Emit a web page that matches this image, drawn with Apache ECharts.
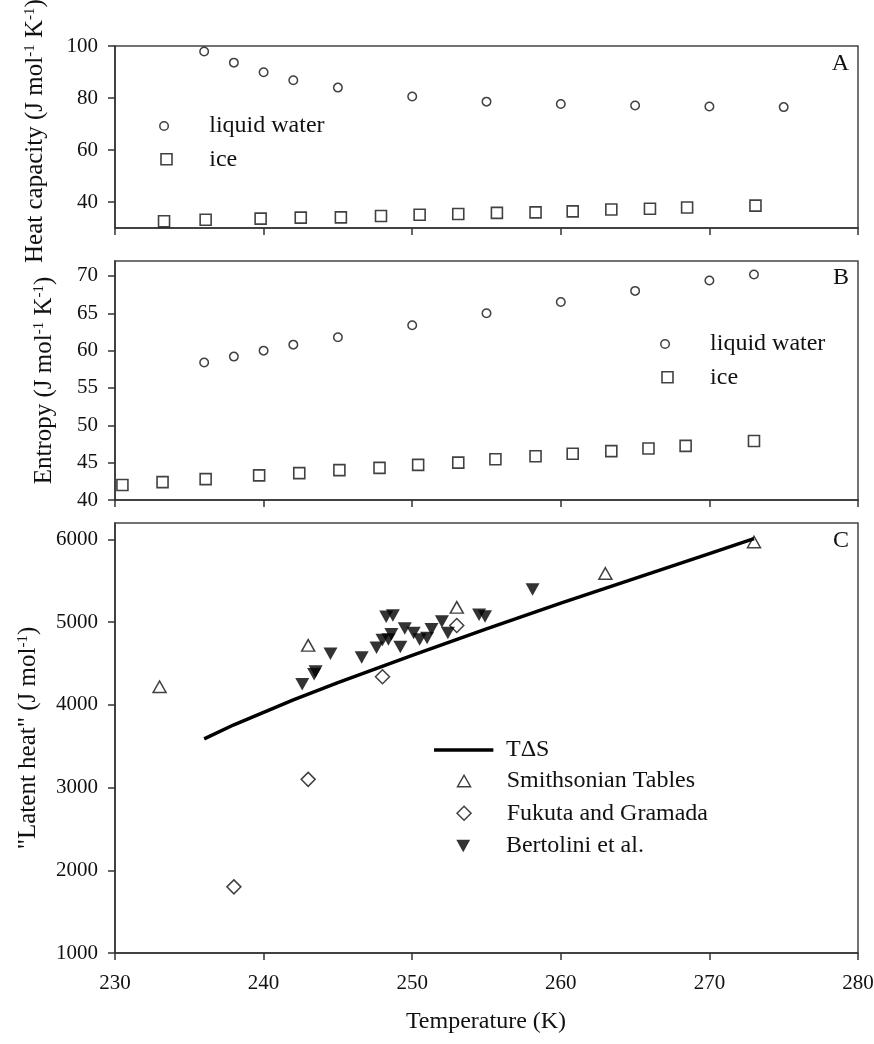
<!DOCTYPE html>
<html><head><meta charset="utf-8">
<script src="https://cdn.jsdelivr.net/npm/echarts@6/dist/echarts.min.js"></script>
<style>html,body{margin:0;padding:0;background:#fff}#c{width:874px;height:1044px}</style>
</head><body><div id="c"></div>
<script>
// ---------------- data ----------------
// Panel A: heat capacity (J mol-1 K-1)
const tLiquidCp = [236, 238, 240, 242, 245, 250, 255, 260, 265, 270, 275];
const cpLiquid  = [97.9, 93.6, 89.9, 86.8, 84.0, 80.6, 78.6, 77.7, 77.1, 76.7, 76.5];
const tIceCp    = [233.3, 236.1, 239.8, 242.5, 245.2, 247.9, 250.5, 253.1, 255.7, 258.3, 260.8, 263.4, 266.0, 268.5, 273.1];
const cpIce     = [32.6, 33.2, 33.6, 34.0, 34.1, 34.6, 35.1, 35.4, 35.8, 36.0, 36.4, 37.1, 37.4, 37.9, 38.6];
// Panel B: entropy (J mol-1 K-1)
const tLiquidS  = [236, 238, 240, 242, 245, 250, 255, 260, 265, 270, 273];
const sLiquid   = [58.4, 59.2, 60.0, 60.8, 61.8, 63.4, 65.0, 66.5, 68.0, 69.4, 70.2];
const tIceS     = [230.5, 233.2, 236.1, 239.7, 242.4, 245.1, 247.8, 250.4, 253.1, 255.6, 258.3, 260.8, 263.4, 265.9, 268.4, 273.0];
const sIce      = [42.0, 42.4, 42.8, 43.3, 43.6, 44.0, 44.3, 44.7, 45.0, 45.45, 45.85, 46.2, 46.55, 46.9, 47.25, 47.9];
// Panel C: "latent heat" (J mol-1)
const tTdS      = [236, 238, 240, 242, 245, 250, 255, 260, 265, 270, 273];
const vTdS      = [3590, 3760, 3910, 4060, 4270, 4600, 4920, 5230, 5530, 5830, 6010];
const tSmith    = [233, 243, 253, 263, 273];
const vSmith    = [4220, 4720, 5180, 5590, 5970];
const tFukuta   = [238, 243, 248, 253];
const vFukuta   = [1800, 3100, 4340, 4960];
const tBert     = [242.6, 243.4, 243.5, 244.5, 246.6, 247.6, 248.0, 248.4, 248.25, 248.7, 248.6, 249.2, 249.5, 250.1, 250.5, 251.0, 251.3, 252.0, 252.4, 254.5, 254.9, 258.1];
const vBert     = [4250, 4370, 4405, 4620, 4575, 4690, 4785, 4790, 5065, 5080, 4855, 4700, 4925, 4870, 4790, 4810, 4915, 5010, 4870, 5090, 5070, 5395];
// ticks
const tempTicks = [230, 240, 250, 260, 270, 280];
const cpTicks   = [40, 60, 80, 100];
const sTicks    = [40, 45, 50, 55, 60, 65, 70];
const lhTicks   = [1000, 2000, 3000, 4000, 5000, 6000];

// ---------------- helpers ----------------
const FONT = '"Liberation Serif","Times New Roman",serif';
const INK = '#111';
const AX = '#333';
const zip = (a, b) => a.map((v, i) => [v, b[i]]);

function xAx(gi, showLabels) {
  return {
    type: 'value', gridIndex: gi, min: tempTicks[0], max: tempTicks[tempTicks.length - 1], interval: 10,
    axisLine: { show: true, onZero: false, lineStyle: { color: AX, width: 1.5 } },
    axisTick: { show: true, inside: false, length: 7, lineStyle: { color: AX, width: 1.5 } },
    axisLabel: { show: showLabels, margin: 20, fontSize: 21, fontFamily: FONT, color: INK, formatter: v => String(v) },
    splitLine: { show: false }
  };
}
function yAx(gi, min, max, ticks) {
  return {
    type: 'value', gridIndex: gi, min: min, max: max,
    axisLine: { show: true, onZero: false, lineStyle: { color: AX, width: 1.5 } },
    axisTick: { show: true, inside: false, length: 7, customValues: ticks, lineStyle: { color: AX, width: 1.5 } },
    axisLabel: { show: true, customValues: ticks, margin: 17, fontSize: 21, fontFamily: FONT, color: INK, formatter: v => String(v) },
    splitLine: { show: false }
  };
}
function grid(top, height) {
  return { left: 115, width: 743, top: top, height: height, show: true, borderColor: '#444', borderWidth: 1.5,
           backgroundColor: 'transparent', containLabel: false, outerBoundsMode: 'none' };
}
// single-item legend: icon centre (cx, cy), icon w x h, text starting at textX
function leg(item, cx, cy, w, h, textX, itemStyle) {
  const left = cx - w / 2;
  const pad = textX - (left + w + 5);
  const l = {
    show: true, data: [item], orient: 'vertical', left: left, top: cy - 12, padding: 0,
    itemWidth: w, itemHeight: h, selectedMode: false,
    textStyle: { fontSize: 24, fontFamily: FONT, color: INK, lineHeight: 24, padding: [0, 0, 0, pad] }
  };
  if (itemStyle) l.itemStyle = itemStyle;
  return l;
}
const openCircle = { color: '#fff', borderColor: INK, borderWidth: 1.5 };
const openSquare = { color: '#fff', borderColor: INK, borderWidth: 1.6 };
const openTri    = { color: '#fff', borderColor: INK, borderWidth: 1.5 };
const downTri = 'path://M0,0L10,0L5,9Z';

const chart = echarts.init(document.getElementById('c'), null, { renderer: 'canvas' });
chart.setOption({
  backgroundColor: '#fff',
  animation: false,
  grid: [grid(46, 182), grid(261, 239), grid(523, 430)],
  xAxis: [xAx(0, false), xAx(1, false), xAx(2, true)],
  yAxis: [yAx(0, 30, 100, cpTicks), yAx(1, 40, 72, sTicks), yAx(2, 1000, 6200, lhTicks)],
  legend: [
    leg('liquid water', 163.3, 126, 8.5, 8.5, 208.5, { borderWidth: 1.5 }),
    leg('ice', 165.7, 159.3, 11, 11, 208.5, { borderWidth: 1.6 }),
    leg('liquid water', 664.3, 344, 8.5, 8.5, 709.3, { borderWidth: 1.5 }),
    leg('ice', 666.7, 377.3, 11, 11, 709.3, { borderWidth: 1.6 }),
    leg({ name: 'TΔS', icon: 'rect' }, 463.7, 750, 59.3, 3.5, 506, { color: '#000', borderWidth: 0 }),
    leg('Smithsonian Tables', 463.3, 781, 13, 11.5, 506, { borderWidth: 1.5 }),
    leg('Fukuta and Gramada', 463.3, 813.3, 14, 14, 506, { borderWidth: 1.5 }),
    leg('Bertolini et al.', 463.3, 846, 14, 12.5, 506)
  ],
  series: [
    { name: 'liquid water', type: 'scatter', xAxisIndex: 0, yAxisIndex: 0, symbol: 'circle', symbolSize: 8.5,
      itemStyle: openCircle, data: zip(tLiquidCp, cpLiquid) },
    { name: 'ice', type: 'scatter', xAxisIndex: 0, yAxisIndex: 0, symbol: 'rect', symbolSize: 11,
      itemStyle: openSquare, data: zip(tIceCp, cpIce) },
    { name: 'liquid water', type: 'scatter', xAxisIndex: 1, yAxisIndex: 1, symbol: 'circle', symbolSize: 8.5,
      itemStyle: openCircle, data: zip(tLiquidS, sLiquid) },
    { name: 'ice', type: 'scatter', xAxisIndex: 1, yAxisIndex: 1, symbol: 'rect', symbolSize: 11,
      itemStyle: openSquare, data: zip(tIceS, sIce) },
    { name: 'TΔS', type: 'line', xAxisIndex: 2, yAxisIndex: 2, symbol: 'none', showSymbol: false, smooth: false,
      lineStyle: { color: '#000', width: 3.5, cap: 'butt' }, itemStyle: { color: '#000' }, data: zip(tTdS, vTdS) },
    { name: 'Smithsonian Tables', type: 'scatter', xAxisIndex: 2, yAxisIndex: 2, symbol: 'triangle', symbolSize: [13, 11.5],
      itemStyle: openTri, data: zip(tSmith, vSmith) },
    { name: 'Fukuta and Gramada', type: 'scatter', xAxisIndex: 2, yAxisIndex: 2, symbol: 'diamond', symbolSize: 14,
      itemStyle: openTri, data: zip(tFukuta, vFukuta) },
    { name: 'Bertolini et al.', type: 'scatter', xAxisIndex: 2, yAxisIndex: 2, symbol: downTri, symbolSize: [14, 12.5],
      itemStyle: { color: '#000' }, data: zip(tBert, vBert) }
  ],
  graphic: [
    { type: 'text', x: 849, y: 64, style: { text: 'A', font: '24px ' + FONT, fill: INK, align: 'right', verticalAlign: 'middle' } },
    { type: 'text', x: 849, y: 278, style: { text: 'B', font: '24px ' + FONT, fill: INK, align: 'right', verticalAlign: 'middle' } },
    { type: 'text', x: 849, y: 541, style: { text: 'C', font: '24px ' + FONT, fill: INK, align: 'right', verticalAlign: 'middle' } },
    { type: 'text', x: 35, y: 263, rotation: Math.PI / 2,
      style: { text: 'Heat capacity (J mol{s|-1} K{s|-1})', fontSize: 25, fontFamily: FONT, fill: INK, align: 'left', verticalAlign: 'middle',
               rich: { s: { fontSize: 15, fontFamily: FONT, fill: INK, verticalAlign: 'top' } } } },
    { type: 'text', x: 44, y: 380.5, rotation: Math.PI / 2,
      style: { text: 'Entropy (J mol{s|-1} K{s|-1})', fontSize: 25, fontFamily: FONT, fill: INK, align: 'center', verticalAlign: 'middle',
               rich: { s: { fontSize: 15, fontFamily: FONT, fill: INK, verticalAlign: 'top' } } } },
    { type: 'text', x: 28, y: 738, rotation: Math.PI / 2,
      style: { text: '"Latent heat" (J mol{s|-1})', fontSize: 25, fontFamily: FONT, fill: INK, align: 'center', verticalAlign: 'middle',
               rich: { s: { fontSize: 15, fontFamily: FONT, fill: INK, verticalAlign: 'top' } } } },
    { type: 'text', x: 486, y: 1022, style: { text: 'Temperature (K)', font: '24px ' + FONT, fill: INK, align: 'center', verticalAlign: 'middle' } }
  ]
});
</script></body></html>
